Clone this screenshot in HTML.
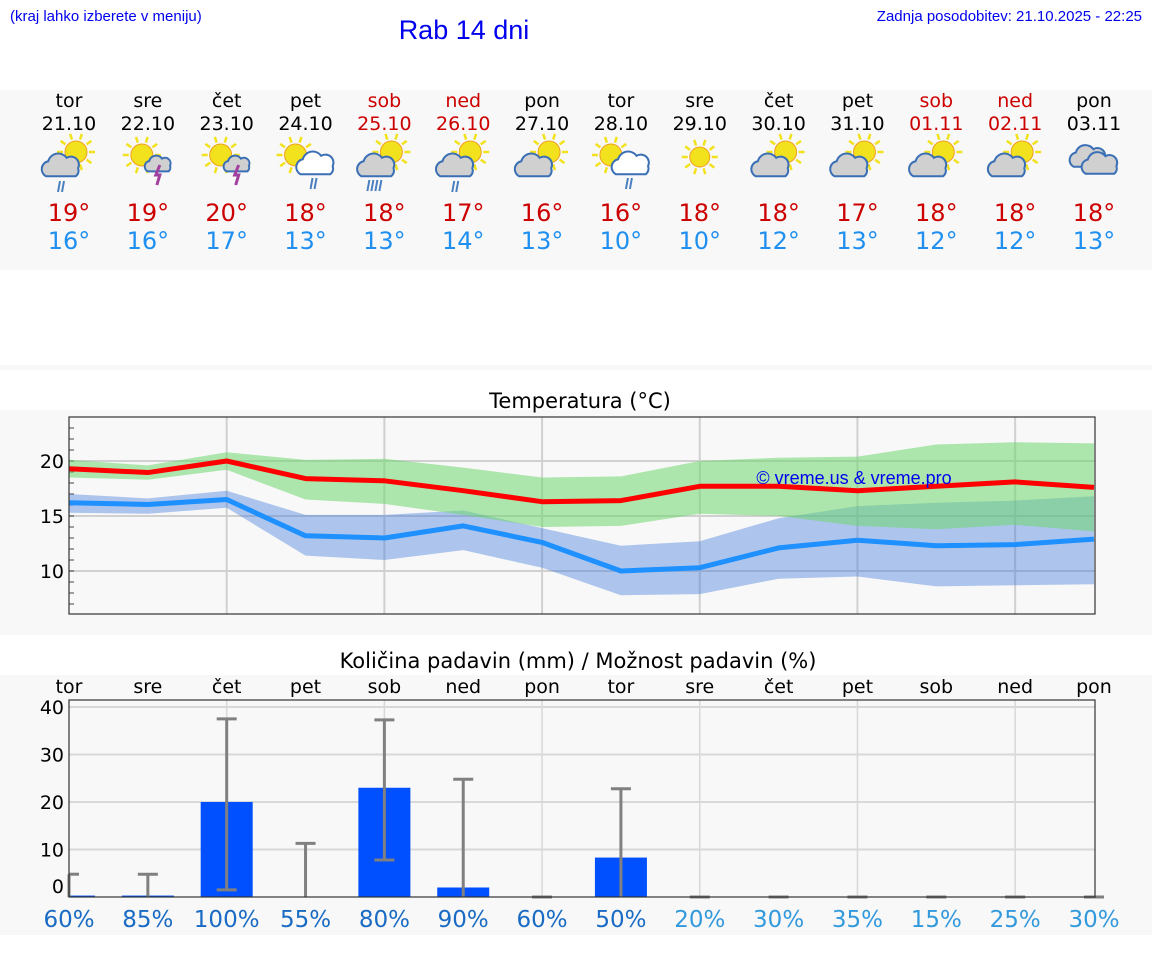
<!DOCTYPE html>
<html><head><meta charset="utf-8"><style>
body{margin:0;background:#fff;font-family:"DejaVu Sans","Liberation Sans",sans-serif;}
svg{display:block}
</style></head><body>
<svg id="s" width="1152" height="975" xmlns="http://www.w3.org/2000/svg">
<rect x="0" y="90" width="1152" height="180" fill="#f8f8f8"/>
<rect x="0" y="365" width="1152" height="5" fill="#f8f8f8"/>
<rect x="0" y="410" width="1152" height="225" fill="#f8f8f8"/>
<rect x="0" y="675" width="1152" height="260" fill="#f8f8f8"/>
<text x="10" y="21" font-size="15" font-family="Liberation Sans, sans-serif" fill="#0000ee">(kraj lahko izberete v meniju)</text>
<text x="464" y="39" font-size="27" font-family="Liberation Sans, sans-serif" fill="#0000ee" text-anchor="middle">Rab 14 dni</text>
<text x="1142" y="21" font-size="15" font-family="Liberation Sans, sans-serif" fill="#0000ee" text-anchor="end">Zadnja posodobitev: 21.10.2025 - 22:25</text>
<text x="580" y="408" font-size="21" fill="#000" text-anchor="middle">Temperatura (°C)</text>
<text x="578" y="668" font-size="21" fill="#000" text-anchor="middle">Količina padavin (mm) / Možnost padavin (%)</text>
<g id="days"></g><g id="temp"></g><g id="prec"></g>
</svg>
<script>
const dayNames=["tor","sre","čet","pet","sob","ned","pon","tor","sre","čet","pet","sob","ned","pon"];
const dates=["21.10","22.10","23.10","24.10","25.10","26.10","27.10","28.10","29.10","30.10","31.10","01.11","02.11","03.11"];
const weekend=[0,0,0,0,1,1,0,0,0,0,0,1,1,0];
const icons=["scr","st","st","swr","scr4","scr","sc","swr","s","sc","sc","sc","sc","cc"];
const maxLabels=[19,19,20,18,18,17,16,16,18,18,17,18,18,18];
const minLabels=[16,16,17,13,13,14,13,10,10,12,13,12,12,13];
const tMax=[19.3,18.95,20.0,18.4,18.2,17.3,16.3,16.4,17.7,17.7,17.3,17.7,18.1,17.6];
const tMaxHi=[20.1,19.6,20.8,20.1,20.2,19.4,18.5,18.6,20.0,20.3,20.4,21.5,21.7,21.6];
const tMaxLo=[18.5,18.3,19.2,16.5,16.1,15.1,14.0,14.1,15.2,15.0,14.1,13.8,14.2,13.6];
const tMin=[16.2,16.05,16.5,13.2,13.0,14.1,12.6,10.0,10.3,12.1,12.8,12.3,12.4,12.9];
const tMinHi=[17.0,16.6,17.3,15.1,15.1,15.5,13.9,12.3,12.7,14.8,15.9,16.2,16.4,16.8];
const tMinLo=[15.3,15.2,15.75,11.4,11.0,11.9,10.3,7.8,7.9,9.3,9.5,8.6,8.7,8.8];
const tTicks=[10,15,20];
const rain=[0.3,0.3,20,0,23,2,0,8.3,0,0,0,0,0,0];
const rainLo=[0,0,1.5,0,7.8,0,0,0,0,0,0,0,0,0];
const rainHi=[4.8,4.8,37.5,11.3,37.3,24.8,0,22.8,0,0,0,0,0,0];
const chance=[60,85,100,55,80,90,60,50,20,30,35,15,25,30];
const pTicks=[0,10,20,30,40];

const NS="http://www.w3.org/2000/svg";
function mk(p,tag,a,txt){const e=document.createElementNS(NS,tag);for(const k in a)e.setAttribute(k,a[k]);if(txt!==undefined)e.textContent=txt;p.appendChild(e);return e;}
const X0=69,X1=1095,N=14;
const dx=i=>X0+i*(X1-1-X0)/(N-1);

const D=document.getElementById('days');
function sun(g,cx,cy,r){const s=mk(g,'g',{});for(let k=0;k<10;k++){const a=k*Math.PI/5;mk(s,'line',{x1:cx+Math.cos(a)*(r+2),y1:cy+Math.sin(a)*(r+2),x2:cx+Math.cos(a)*(r+8),y2:cy+Math.sin(a)*(r+8),stroke:'#f2e21e','stroke-width':2.5});}mk(s,'circle',{cx:cx,cy:cy,r:r,fill:'#f2e21e',stroke:'#f0a020','stroke-width':1});}
function cloud(g,cx,cy,fill,sc){sc=sc||1;mk(g,'path',{d:`M${cx-14*sc},${cy+8*sc} a${7*sc},${7*sc} 0 0 1 ${2*sc},${-13*sc} a${9*sc},${9*sc} 0 0 1 ${16*sc},${-3*sc} a${7*sc},${7*sc} 0 0 1 ${10*sc},${9*sc} a${6*sc},${6*sc} 0 0 1 ${-2*sc},${7*sc} z`,fill:fill,stroke:'#3a6fb5','stroke-width':2});}
function rainDr(g,cx,cy,n){for(let k=0;k<n;k++)mk(g,'line',{x1:cx+k*4+1,y1:cy,x2:cx+k*4-1,y2:cy+11,stroke:'#4a7fc0','stroke-width':2});}
for(let i=0;i<N;i++){
  const x=dx(i);const g=mk(D,'g',{});
  
  
  const c=weekend[i]?'#cc0000':'#000';
  mk(g,'text',{x:x,y:107,'font-size':19,'text-anchor':'middle',fill:c},dayNames[i]);
  mk(g,'text',{x:x,y:130,'font-size':19,'text-anchor':'middle',fill:c},dates[i]);
  const t=icons[i];
  if(t==='s'){sun(g,x,157,10);}
  else if(t==='cc'){cloud(g,x-5,158,'#d0d0d0',1.1);cloud(g,x+7,165,'#d0d0d0',1.1);}
  else if(t==='st'){sun(g,x-6,155,11);cloud(g,x+11,165,'#d0d0d0',0.8);mk(g,'path',{d:`M${x+12},${165} l-4,10 h4 l-3,10`,stroke:'#a040a0','stroke-width':3,fill:'none'});}
  else if(t==='swr'){sun(g,x-10,155,11);cloud(g,x+11,165,'#fff',1.15);rainDr(g,x+6,178,2);}
  else {sun(g,x+7,152,11);cloud(g,x-7,167,'#d0d0d0',1.15);if(t==='scr')rainDr(g,x-10,181,2);if(t==='scr4')rainDr(g,x-16,180,4);}
  mk(g,'text',{x:x,y:221,'font-size':24,'text-anchor':'middle',fill:'#cc0000'},maxLabels[i]+'°');
  mk(g,'text',{x:x,y:249,'font-size':24,'text-anchor':'middle',fill:'#2090f0'},minLabels[i]+'°');
}

const T=document.getElementById('temp');
const TY0=417,TY1=614;
const ty=v=>461-(v-20)*11;
mk(T,'rect',{x:X0,y:TY0,width:X1-X0,height:TY1-TY0,fill:'#f8f8f8'});
for(let i=2;i<N;i+=2){const l=mk(T,'line',{x1:dx(i),x2:dx(i),y1:TY0,y2:TY1,stroke:'#d0d0d0','stroke-width':2});}
for(const v of tTicks){const l=mk(T,'line',{x1:X0,x2:X1,y1:ty(v),y2:ty(v),stroke:'#d0d0d0','stroke-width':2});
  const t=mk(T,'text',{x:X0-5,y:ty(v)+7,'font-size':19,'text-anchor':'end',fill:'#000'},String(v));}
for(let v=7;v<=23;v++){mk(T,'line',{x1:X0,x2:X0+5,y1:ty(v),y2:ty(v),stroke:'#444','stroke-width':1});}
function band(hi,lo,fill,name){let d='M'+hi.map((v,i)=>dx(i)+','+ty(v)).join(' L')+' L'+lo.map((v,i)=>dx(i)+','+ty(v)).reverse().join(' L')+'Z';const p=mk(T,'path',{d:d,fill:fill});}
band(tMinHi,tMinLo,'rgba(60,120,220,0.4)','min-temp-range');
band(tMaxHi,tMaxLo,'rgba(110,215,110,0.55)','max-temp-range');
function line(vals,col,name){const p=mk(T,'polyline',{points:vals.map((v,i)=>dx(i)+','+ty(v)).join(' '),fill:'none',stroke:col,'stroke-width':5,'stroke-linejoin':'round'});}
line(tMin,'#1e90ff','min-temp-line');
line(tMax,'#ff0000','max-temp-line');
const wm=mk(T,'text',{x:854,y:484,'font-size':18,'font-family':'Liberation Sans, sans-serif','text-anchor':'middle',fill:'#0000ee'},'© vreme.us & vreme.pro');

mk(T,'rect',{x:X0,y:TY0,width:X1-X0,height:TY1-TY0,fill:'none',stroke:'#333','stroke-width':1.2});

const P=document.getElementById('prec');
const PY0=700,PY1=897;
const py=v=>897-v*4.75;
mk(P,'rect',{x:X0,y:PY0,width:X1-X0,height:PY1-PY0,fill:'#f8f8f8'});
for(let i=2;i<N;i+=2){mk(P,'line',{x1:dx(i),x2:dx(i),y1:PY0,y2:PY1,stroke:'#d8d8d8','stroke-width':1.5});}
for(const v of pTicks){if(v>0)mk(P,'line',{x1:X0,x2:X1,y1:py(v),y2:py(v),stroke:'#d8d8d8','stroke-width':2});
  const t=mk(P,'text',{x:X0-5,y:(v===0?py(v)-4:py(v)+7),'font-size':19,'text-anchor':'end',fill:'#000'},String(v));}
for(let i=0;i<N;i++){
  const x=dx(i);
  const t=mk(P,'text',{x:x,y:693,'font-size':19,'text-anchor':'middle',fill:'#000'},dayNames[i]);
  
  if(rain[i]>0){const bx=Math.max(X0,x-26),bw=Math.min(x+26,X1)-bx;const r=mk(P,'rect',{x:bx,y:py(rain[i]),width:bw,height:PY1-py(rain[i]),fill:'#0050ff'});}
  const g=mk(P,'g',{stroke:'#808080','stroke-width':3});
  
  
  mk(g,'line',{x1:x,x2:x,y1:py(rainLo[i]),y2:py(rainHi[i])});
  mk(g,'line',{x1:Math.max(X0,x-10),x2:x+10,y1:py(rainHi[i]),y2:py(rainHi[i])});
  if(rainLo[i]>0)mk(g,'line',{x1:x-10,x2:x+10,y1:py(rainLo[i]),y2:py(rainLo[i])});
  const c=mk(P,'text',{x:x,y:927,'font-size':23,'text-anchor':'middle',fill:i<8?'#1a6bc4':'#3399dd'},chance[i]+'%');
  
}
mk(P,'rect',{x:X0,y:PY0,width:X1-X0,height:PY1-PY0,fill:'none',stroke:'#333','stroke-width':1.2});
</script>
</body></html>
